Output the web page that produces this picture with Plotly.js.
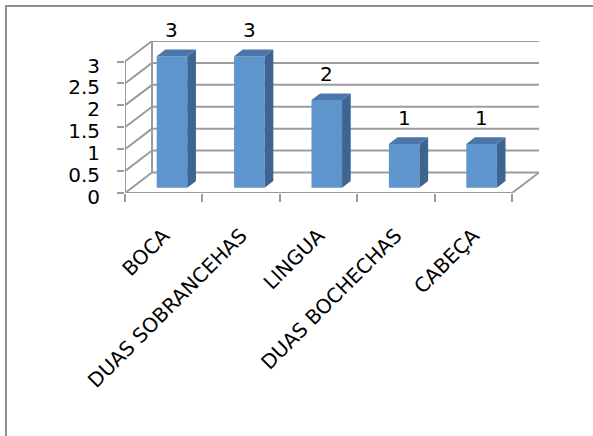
<!DOCTYPE html>
<html>
<head>
<meta charset="utf-8">
<script src="https://cdn.plot.ly/plotly-3.0.1.min.js"></script>
<style>
  html, body { margin: 0; padding: 0; background: #fff; }
  #chart { width: 593px; height: 436px; }
  #frame { position: absolute; left: 5px; top: 5px; width: 700px; height: 600px;
           border-top: 2px solid #8f8f8f; border-left: 2px solid #8f8f8f; pointer-events: none; }
</style>
</head>
<body>
<div id="chart"></div>
<div id="frame"></div>
<script>
// ---- data ----
var categories = ["BOCA", "DUAS SOBRANCEHAS", "LINGUA", "DUAS BOCHECHAS", "CABEÇA"];
var values = [3, 3, 2, 1, 1];
var yTicks = [0, 0.5, 1, 1.5, 2, 2.5, 3];
var yTickText = ["0", "0.5", "1", "1.5", "2", "2.5", "3"];

// ---- 3D look (styling, in axis units) ----
var dX = 0.349, dY = 0.468;     // depth of the back wall
var sx = 0.107, sy = 0.12;      // bar front face offset into the depth
var bw = 0.395;                 // bar width
var bx = 0.112, by = 0.153;     // bar depth
var n = categories.length;
var xs = categories.map(function (_, i) { return i; });

var gridColor = "#9c9c9c";
var frontColor = "#5f95cd", sideColor = "#3e6591", topColor = "#4a76a9";

var traces = [];
// bar front faces
traces.push({
  type: "bar", x: xs.map(function (i) { return i + sx; }), y: values,
  base: values.map(function () { return sy; }), width: bw,
  marker: { color: frontColor, line: { width: 0 } }, hoverinfo: "skip", showlegend: false
});
// side & top faces
values.forEach(function (v, i) {
  var xl = i + sx - bw / 2, xr = i + sx + bw / 2;
  traces.push({
    type: "scatter", mode: "lines", fill: "toself", fillcolor: sideColor,
    line: { width: 0, color: sideColor },
    x: [xr, xr + bx, xr + bx, xr, xr], y: [sy, sy + by, sy + v + by, sy + v, sy],
    hoverinfo: "skip", showlegend: false
  });
  traces.push({
    type: "scatter", mode: "lines", fill: "toself", fillcolor: topColor,
    line: { width: 0, color: topColor },
    x: [xl, xl + bx, xr + bx, xr, xl], y: [sy + v, sy + v + by, sy + v + by, sy + v, sy + v],
    hoverinfo: "skip", showlegend: false
  });
});

// walls / grid as shapes
var shapes = [];
function seg(x0, y0, x1, y1) {
  shapes.push({ type: "line", xref: "x", yref: "y", x0: x0, y0: y0, x1: x1, y1: y1,
    layer: "below", line: { color: gridColor, width: 2 } });
}
yTicks.forEach(function (t) {
  seg(-0.5 + dX, t + dY, n - 0.5 + dX, t + dY);   // back wall gridline
  seg(-0.5, t, -0.5 + dX, t + dY);                  // side wall diagonal
});
seg(-0.5 + dX, dY, -0.5 + dX, yTicks[yTicks.length - 1] + dY);
seg(-0.5, 0, -0.5, yTicks[yTicks.length - 1]);
seg(-0.5, 0, n - 0.5, 0);
seg(n - 0.5, 0, n - 0.5 + dX, dY);

// data labels
var annotations = values.map(function (v, i) {
  return { x: i + sx, y: v + sy, xref: "x", yref: "y", text: String(v), showarrow: false,
    yanchor: "bottom", yshift: 12, font: { family: "DejaVu Sans", size: 20, color: "#000" } };
});

var boundaries = [];
for (var k = 0; k <= n; k++) boundaries.push(k - 0.5);

var layout = {
  width: 593, height: 436,
  margin: { l: 125, r: 54, t: 41, b: 243, pad: 0 },
  paper_bgcolor: "rgba(0,0,0,0)", plot_bgcolor: "rgba(0,0,0,0)",
  showlegend: false,
  xaxis: {
    range: [-0.5, n - 0.5 + dX], tickmode: "array", tickvals: xs, ticktext: categories,
    tickangle: -45, ticks: "", showgrid: false, zeroline: false, showline: false,
    ticklabelstandoff: 26,
    tickfont: { family: "DejaVu Sans", size: 20, color: "#000" }
  },
  xaxis2: {
    overlaying: "x", anchor: "y", side: "bottom", range: [-0.5, n - 0.5 + dX],
    tickmode: "array", tickvals: boundaries, showticklabels: false,
    ticks: "outside", ticklen: 8, tickwidth: 2, tickcolor: gridColor,
    showgrid: false, zeroline: false, showline: false
  },
  yaxis: {
    range: [0, 3 + dY], tickmode: "array", tickvals: yTicks, ticktext: yTickText,
    ticks: "outside", ticklen: 7, tickwidth: 2, tickcolor: gridColor,
    showgrid: false, zeroline: false, showline: false,
    ticklabelstandoff: 13, ticklabelshift: 4,
    tickfont: { family: "DejaVu Sans", size: 20, color: "#000" }
  },
  shapes: shapes,
  annotations: annotations
};
traces.push({ type: "scatter", x: [0], y: [0], xaxis: "x2", mode: "none", hoverinfo: "skip", showlegend: false });

Plotly.newPlot("chart", traces, layout, { staticPlot: true, displayModeBar: false });
</script>
</body>
</html>
